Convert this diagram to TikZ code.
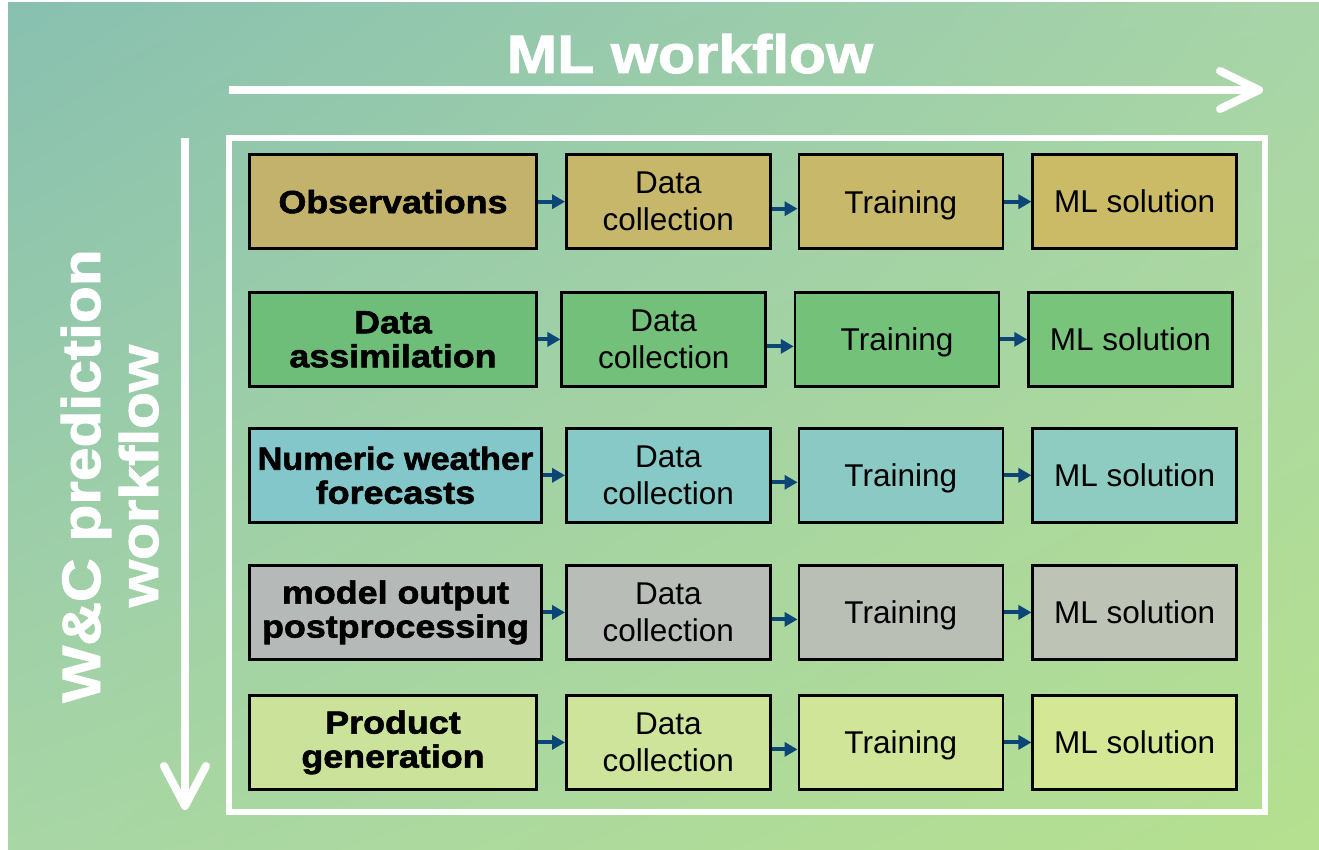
\documentclass[tikz,border=0pt]{standalone}
\usepackage{fontspec}
\setmainfont{Liberation Sans}
\newfontfamily\heavy[FakeBold=1.8,FakeStretch=1.12]{Liberation Sans Bold}
\usetikzlibrary{arrows.meta,shadings}

\definecolor{bgA}{HTML}{88C0B0}
\definecolor{bgB}{HTML}{A8D5A8}
\definecolor{bgC}{HTML}{A8D6A5}
\definecolor{bgD}{HTML}{B5E08F}
\definecolor{flowblue}{HTML}{0B4676}

\definecolor{oA}{HTML}{C3B26B}\definecolor{oB}{HTML}{C6B76B}\definecolor{oC}{HTML}{C8B96A}\definecolor{oD}{HTML}{CBBB67}
\definecolor{aA}{HTML}{6EBD78}\definecolor{aB}{HTML}{72C07A}\definecolor{aC}{HTML}{74C17A}\definecolor{aD}{HTML}{79C47B}
\definecolor{nA}{HTML}{84C7CA}\definecolor{nB}{HTML}{87C9C6}\definecolor{nC}{HTML}{8AC9C4}\definecolor{nD}{HTML}{8ECCC2}
\definecolor{mA}{HTML}{B5B9B8}\definecolor{mB}{HTML}{B8BDB7}\definecolor{mC}{HTML}{BABFB6}\definecolor{mD}{HTML}{BDC3B5}
\definecolor{pA}{HTML}{CBE29B}\definecolor{pB}{HTML}{CEE49A}\definecolor{pC}{HTML}{D0E598}\definecolor{pD}{HTML}{D3E795}

\begin{document}
\begin{tikzpicture}[x=1pt,y=-1pt,
  stepbox/.style={draw=black, line width=2.5pt, minimum height=94pt, minimum width=204pt,
    inner sep=0pt, align=center, font=\fontsize{31.5}{37}\selectfont},
  trainbox/.style={stepbox, text depth=0pt},
  srcbox/.style={stepbox, font=\heavy\fontsize{32}{34}\selectfont},
  flow/.style={draw=flowblue, line width=4pt, -{Triangle[length=13pt,width=14pt]}},
  bigarrow/.style={draw=white, line width=8pt},
  chevron/.style={draw=white, line width=8pt, line cap=round, line join=round},
  title/.style={text=white, font=\heavy\fontsize{54}{58}\selectfont, inner sep=0pt}]

\useasboundingbox (0,0) rectangle (1319,850);
\fill[white] (0,0) rectangle (1319,850);
\shade[upper left=bgA, upper right=bgB, lower left=bgC, lower right=bgD] (8,3) rectangle (1319,850);

% headings
\node[title, anchor=base] (mlt) at (690,73) {ML workflow};
\node[title, anchor=base, rotate=90] (wc1) at (100,476) {W\&C prediction};
\node[title, anchor=base, rotate=90] (wc2) at (158,476) {workflow};

% horizontal workflow arrow
\coordinate (hs) at (229,90);
\coordinate (he) at (1259,90);
\draw[bigarrow] (hs) -- (he);
\draw[chevron] (he) ++(-39,-19) -- (he) -- ++(-39,19);

% vertical workflow arrow
\coordinate (vs) at (185,138);
\coordinate (ve) at (185,806);
\draw[bigarrow] (vs) -- (ve);
\draw[chevron] (ve) ++(-21,-40) -- (ve) -- ++(21,-40);

% frame round the grid
\draw[white, line width=6pt] (228.7,138) rectangle (1265,812);

% row 1
\node[srcbox, minimum width=287pt, fill=oA] (r1a) at (393,201.7) {Observations};
\node[stepbox, fill=oB] (r1b) at (668.3,201.7) {Data\\collection};
\node[trainbox, fill=oC] (r1c) at (900.8,201.7) {Training};
\node[stepbox, fill=oD] (r1d) at (1134.7,201.7) {ML solution};

% row 2
\node[srcbox, minimum width=287pt, fill=aA] (r2a) at (393,339.4) {Data\\assimilation};
\node[stepbox, fill=aB] (r2b) at (663.7,339.4) {Data\\collection};
\node[trainbox, fill=aC] (r2c) at (897,339.4) {Training};
\node[stepbox, fill=aD] (r2d) at (1130.5,339.4) {ML solution};

% row 3
\node[srcbox, minimum width=292pt, fill=nA] (r3a) at (395.5,475.3) {\scalebox{0.955}[1]{Numeric weather}\\forecasts};
\node[stepbox, fill=nB] (r3b) at (668.3,475.3) {Data\\collection};
\node[trainbox, fill=nC] (r3c) at (900.8,475.3) {Training};
\node[stepbox, fill=nD] (r3d) at (1134.7,475.3) {ML solution};

% row 4
\node[srcbox, minimum width=292pt, fill=mA] (r4a) at (395.5,612.4) {model output\\postprocessing};
\node[stepbox, fill=mB] (r4b) at (668.3,612.4) {Data\\collection};
\node[trainbox, fill=mC] (r4c) at (900.8,612.4) {Training};
\node[stepbox, fill=mD] (r4d) at (1134.7,612.4) {ML solution};

% row 5
\node[srcbox, minimum width=287pt, fill=pA] (r5a) at (393,742.4) {Product\\generation};
\node[stepbox, fill=pB] (r5b) at (668.3,742.4) {Data\\collection};
\node[trainbox, fill=pC] (r5c) at (900.8,742.4) {Training};
\node[stepbox, fill=pD] (r5d) at (1134.7,742.4) {ML solution};

% connectors along each row
\foreach \r in {1,...,5}{
  \draw[flow] (r\r a.east) -- (r\r b.west);
  \draw[flow] ([yshift=-7pt]r\r b.east) -- ([yshift=-7pt]r\r c.west);
  \draw[flow] (r\r c.east) -- (r\r d.west);
}
\end{tikzpicture}
\end{document}
